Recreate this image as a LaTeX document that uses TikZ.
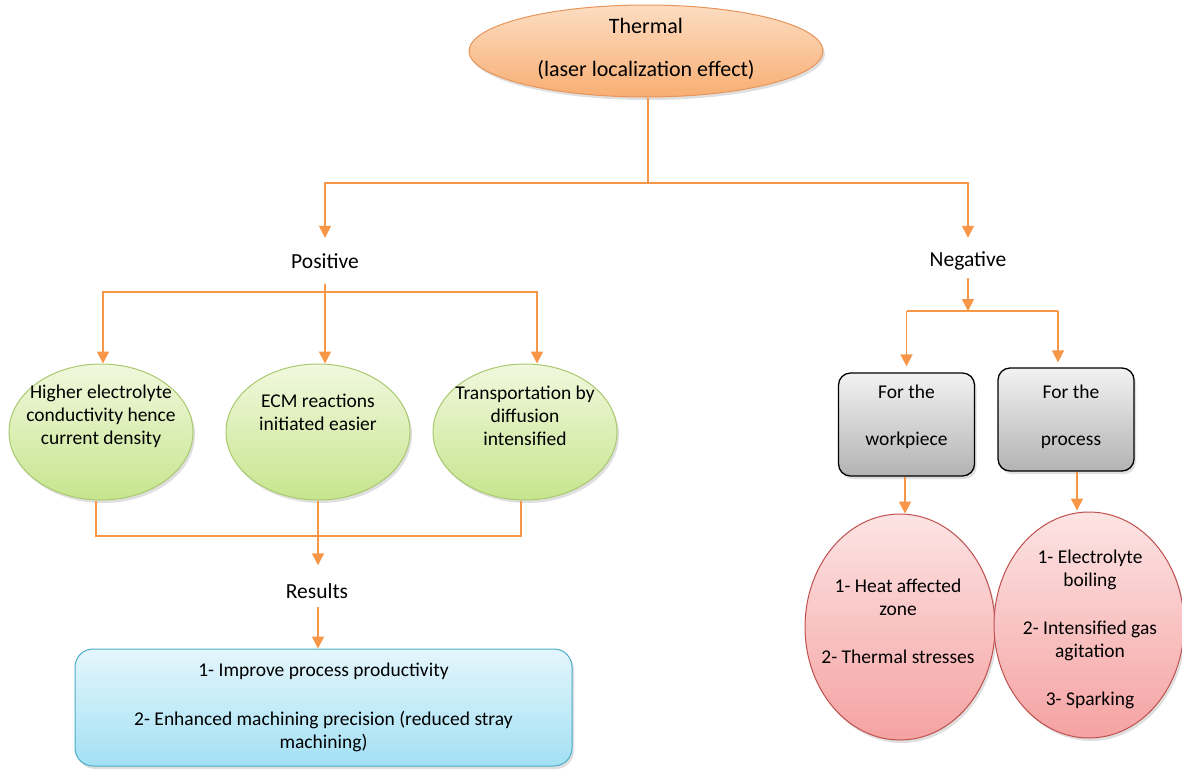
\documentclass[tikz,border=0pt]{standalone}
\usepackage{fontspec}
\setmainfont{Carlito}
\usetikzlibrary{shapes.geometric,arrows.meta,shadows,calc}
\definecolor{org}{HTML}{F79646}
\definecolor{orgtop}{HTML}{FCDDC2}
\definecolor{orgbot}{HTML}{F8AE72}
\definecolor{orgdraw}{HTML}{E8945A}
\definecolor{grntop}{HTML}{F1F8DE}
\definecolor{grnbot}{HTML}{C6E58E}
\definecolor{grndraw}{HTML}{A9C96E}
\definecolor{pnktop}{HTML}{FDE4E4}
\definecolor{pnkbot}{HTML}{F5A2A2}
\definecolor{pnkdraw}{HTML}{C0504D}
\definecolor{blutop}{HTML}{E4F6FC}
\definecolor{blubot}{HTML}{A3E0F4}
\definecolor{bludraw}{HTML}{4BACC6}
\definecolor{grytop}{HTML}{F2F2F2}
\definecolor{grybot}{HTML}{B3B3B3}
\begin{document}
\begin{tikzpicture}[x=1pt,y=-1pt,
  font=\fontsize{19.5}{23}\selectfont,
  ln/.style={draw=org,line width=1.6pt},
  arr/.style={ln,-{Triangle[width=12pt,length=12pt]}},
  shad/.style={drop shadow={shadow xshift=2pt,shadow yshift=-3pt,opacity=0.25}},
  thermal/.style={ellipse,draw=orgdraw,line width=1pt,top color=orgtop,bottom color=orgbot,minimum width=354pt,minimum height=92pt,inner sep=0pt,shad},
  grn/.style={ellipse,draw=grndraw,line width=1pt,top color=grntop,bottom color=grnbot,minimum width=184pt,minimum height=136pt,inner sep=0pt,shad},
  pnk/.style={ellipse,draw=pnkdraw,line width=1pt,top color=pnktop,bottom color=pnkbot,minimum width=190pt,minimum height=226pt,inner sep=0pt,shad},
  gry/.style={rectangle,rounded corners=12pt,draw=black,line width=1.3pt,top color=grytop,bottom color=grybot,minimum width=136pt,minimum height=103pt,inner sep=0pt,shad},
  blu/.style={rectangle,rounded corners=18pt,draw=bludraw,line width=1pt,top color=blutop,bottom color=blubot,minimum width=497pt,minimum height=117pt,inner sep=0pt,shad},
  lbl/.style={inner sep=0pt,minimum height=46pt,align=center,font=\fontsize{21.5}{25}\selectfont},
  txt/.style={inner sep=0pt,align=center}
]
\useasboundingbox (0,0) rectangle (1182,774);

% top ellipse
\node[thermal] (th) at (646,51) {};
\node[txt,font=\fontsize{22}{25}\selectfont] at (646,49) {Thermal\\[18pt](laser localization effect)};

% labels
\node[lbl] (pos) at (325,261) {Positive};
\node[lbl] (neg) at (968,261) {Negative};
\node[lbl,minimum height=0pt] (res) at (317,591) {Results};

% green circles
\node[grn] (g1) at (101,432) {};
\node[txt] at (101,416) {Higher electrolyte\\conductivity hence\\current density};
\node[grn] (g2) at (318,432) {};
\node[txt] at (318,412) {ECM reactions\\initiated easier};
\node[grn] (g3) at (525,432) {};
\node[txt] at (525,416) {Transportation by\\diffusion\\intensified};

% blue box
\node[blu] (bl) at (323.5,707.5) {};
\node[txt] at (323.5,707) {1- Improve process productivity\\[26pt]2- Enhanced machining precision (reduced stray\\machining)};

% gray boxes
\node[gry] (w) at (906.5,424.5) {};
\node[txt] at (906.5,417) {For the\\[24pt]workpiece};
\node[gry] (p) at (1066,419.5) {};
\node[txt] at (1071,417) {For the\\[24pt]process};

% pink ellipses
\node[pnk] (pk1) at (900,627) {};
\node[txt] at (898,621) {1- Heat affected\\zone\\[25pt]2- Thermal stresses};
\node[pnk] (pk2) at (1089,625) {};
\node[txt] at (1090,629) {1- Electrolyte\\boiling\\[25pt]2- Intensified gas\\agitation\\[25pt]3- Sparking};

% connectors: thermal
\coordinate (j1) at (648,183);
\draw[ln] (th.south -| j1) -- (j1);
\draw[arr] (j1) -| (pos.north);
\draw[arr] (j1) -| (neg.north);

% positive branch
\coordinate (j2) at (325,292);
\draw[ln] (pos.south) -- (j2);
\draw[arr] (j2) -| ([xshift=2pt]g1.north);
\draw[arr] (pos.south) -- (g2.north -| pos.south);
\draw[arr] (j2) -| ([xshift=12pt]g3.north);

% green to results
\coordinate (j3) at (318,536);
\draw[ln] ([xshift=-5pt]g1.south) |- (j3);
\draw[ln] ([xshift=-4pt]g3.south) |- (j3);
\draw[arr] (g2.south) -- ([yshift=18pt]res.north -| g2.south);
\draw[arr] ([yshift=-8pt]res.south -| g2.south) -- (bl.north -| g2.south);

% negative branch
\coordinate (j4) at (968,311);
\coordinate (j5) at (1058,311);
\draw[arr] ([yshift=6pt]neg.south) -- (j4);
\draw[ln] (j4 -| w.north) -- (j5);
\draw[arr] (j4 -| w.north) -- ([yshift=6pt]w.north);
\draw[arr] (j5) -- ([yshift=5pt]p.north -| j5);

% gray to pink
\draw[arr] (w.south -| 905,0) -- (pk1.north -| 905,0);
\draw[arr] (p.south -| 1077,0) -- ([yshift=1pt]pk2.north -| 1077,0);
\end{tikzpicture}
\end{document}
